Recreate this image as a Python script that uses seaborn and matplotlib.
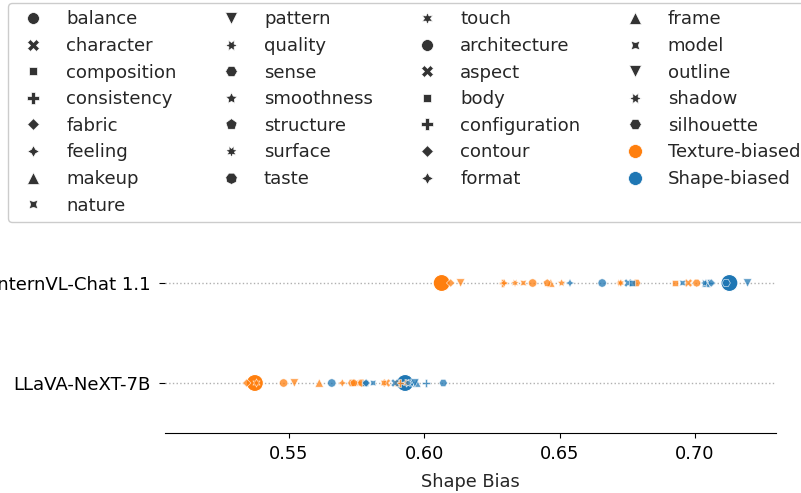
import matplotlib
matplotlib.use("Agg")
import matplotlib.pyplot as plt
from matplotlib.lines import Line2D
import seaborn as sns
import pandas as pd

models = ["InternVL-Chat 1.1", "LLaVA-NeXT-7B"]

texture_words = ["balance", "character", "composition", "consistency", "fabric",
                 "feeling", "makeup", "nature", "pattern", "quality", "sense",
                 "smoothness", "structure", "surface", "taste", "touch"]
shape_words = ["architecture", "aspect", "body", "configuration", "contour",
               "format", "frame", "model", "outline", "shadow", "silhouette"]

# shape bias per word, [InternVL-Chat 1.1, LLaVA-NeXT-7B]
texture_vals = {
    "balance":     [0.640, 0.548],
    "character":   [0.6975, 0.586],
    "composition": [0.6926, 0.590],
    "consistency": [0.629, 0.591],
    "fabric":      [0.6097, 0.5344],
    "feeling":     [0.6295, 0.5697],
    "makeup":      [0.6467, 0.5612],
    "nature":      [0.6366, 0.585],
    "pattern":     [0.6134, 0.552],
    "quality":     [0.6723, 0.575],
    "sense":       [0.6784, 0.5732],
    "smoothness":  [0.6507, 0.576],
    "structure":   [0.6454, 0.574],
    "surface":     [0.6335, 0.5935],
    "taste":       [0.7006, 0.5769],
    "touch":       [0.6725, 0.538],
}
shape_vals = {
    "architecture":  [0.6657, 0.5658],
    "aspect":        [0.6753, 0.5892],
    "body":          [0.6766, 0.5781],
    "configuration": [0.7050, 0.6006],
    "contour":       [0.7060, 0.5785],
    "format":        [0.6538, 0.5955],
    "frame":         [0.7040, 0.5972],
    "model":         [0.6954, 0.5811],
    "outline":       [0.7194, 0.5965],
    "shadow":        [0.7035, 0.5940],
    "silhouette":    [0.7115, 0.607],
}
texture_biased = [0.6064, 0.5374]
shape_biased = [0.7127, 0.5929]

group_labels = ["Texture-biased", "Shape-biased"]
palette = {"Texture-biased": "#ff7f0e", "Shape-biased": "#1f77b4"}

base_markers = ["o", "X", (4, 0, 45), "P", (4, 0, 0), (4, 1, 0), "^", (4, 1, 45), "v",
                (6, 1, 30), (6, 0, 30), (5, 1, 0), (5, 0, 0),
                (7, 1, 360 / 7 / 2), (7, 0, 360 / 7 / 2), (6, 1, 0)]
marker_map = {}
for i, w in enumerate(texture_words):
    marker_map[w] = base_markers[i]
for i, w in enumerate(shape_words):
    marker_map[w] = base_markers[i]

rows = []
for w in texture_words:
    for m, v in zip(models, texture_vals[w]):
        rows.append({"model": m, "word": w, "group": "Texture-biased", "value": v})
for w in shape_words:
    for m, v in zip(models, shape_vals[w]):
        rows.append({"model": m, "word": w, "group": "Shape-biased", "value": v})
df = pd.DataFrame(rows)

big_rows = []
for m, v in zip(models, texture_biased):
    big_rows.append({"model": m, "group": "Texture-biased", "value": v})
for m, v in zip(models, shape_biased):
    big_rows.append({"model": m, "group": "Shape-biased", "value": v})
big = pd.DataFrame(big_rows)

sns.set_style("ticks")
plt.rcParams["font.family"] = ["DejaVu Sans"]
FS = 12.8
LFS = 13.1

fig = plt.figure(figsize=(8.01, 4.93), dpi=100)
ax = fig.add_axes([165 / 801, 1 - 433 / 493, (776 - 165) / 801, 200 / 493])

ax.set_yticks([0, 1])
ax.set_yticklabels(models)
for i in range(2):
    ax.axhline(i, color="#b0b0b0", linestyle=":", linewidth=1.0, zorder=0)

df["y"] = df["model"].map({m: i for i, m in enumerate(models)})
big["y"] = big["model"].map({m: i for i, m in enumerate(models)})

sns.scatterplot(data=big, x="value", y="y", hue="group", palette=palette,
                s=150, edgecolor="white", linewidth=0.8, legend=False, ax=ax, zorder=2)
sns.scatterplot(data=df, x="value", y="y", hue="group", palette=palette,
                style="word", markers=marker_map, s=36, alpha=0.75,
                edgecolor="white", linewidth=0.5, legend=False, ax=ax, zorder=3)

ax.set_ylim(1.5, -0.5)
ax.set_xlim(0.5042, 0.7299)
ax.set_xticks([0.55, 0.60, 0.65, 0.70])
ax.set_xticklabels(["0.55", "0.60", "0.65", "0.70"])
ax.set_xlabel("Shape Bias", fontsize=FS, labelpad=7)
ax.set_ylabel("")
ax.tick_params(axis="x", labelsize=FS, colors="black", pad=5)
ax.tick_params(axis="y", labelsize=LFS, colors="black", length=4, pad=6)
for sp in ["top", "right", "left"]:
    ax.spines[sp].set_visible(False)
ax.spines["bottom"].set_color("black")

handles = []
for w in texture_words + shape_words:
    handles.append(Line2D([], [], linestyle="none", marker=marker_map[w],
                          color="#333333", markersize=8.5, markeredgecolor="white",
                          markeredgewidth=0.5, label=w))
for g in group_labels:
    handles.append(Line2D([], [], linestyle="none", marker="o", color=palette[g],
                          markersize=10, markeredgecolor="white", markeredgewidth=0.5,
                          label=g))
fig.legend(handles=handles, ncol=4, loc="upper left",
           bbox_to_anchor=(8 / 801, 1 - 3 / 493), fontsize=LFS, frameon=True,
           borderaxespad=0, framealpha=1, edgecolor="#cccccc", labelspacing=0.475)

fig.savefig("out.png", dpi=100)
